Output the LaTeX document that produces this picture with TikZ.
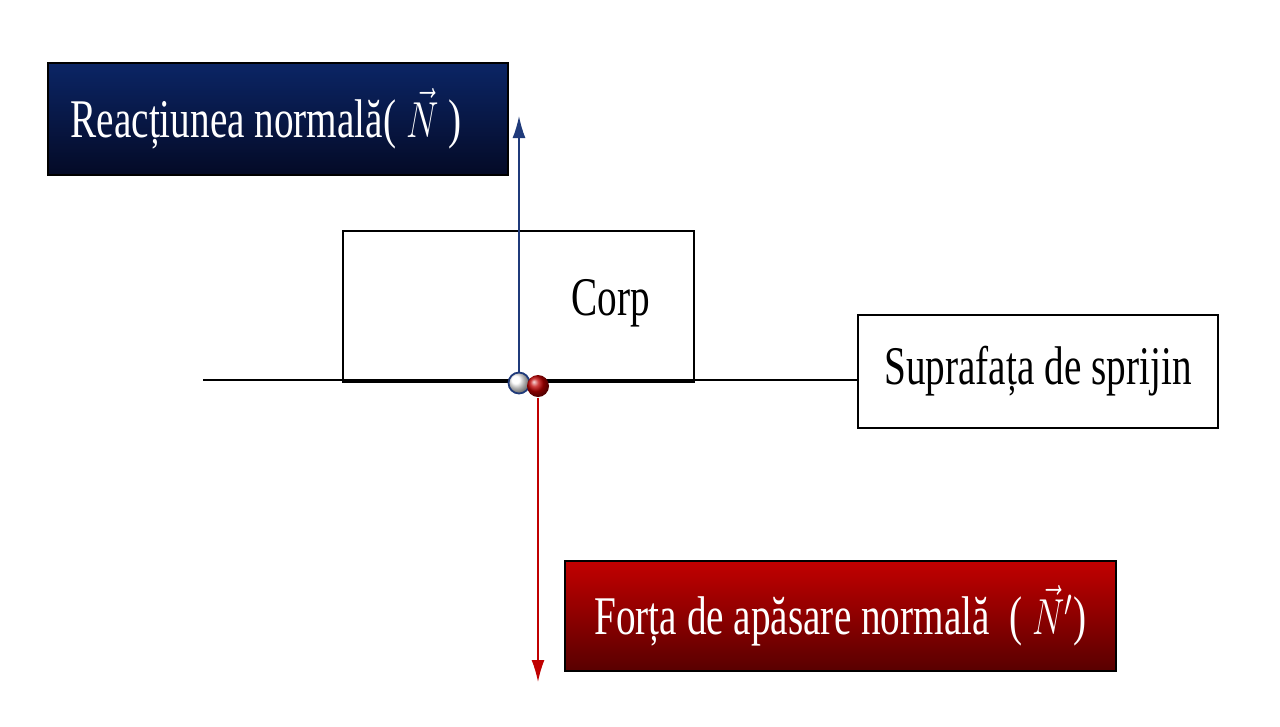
\documentclass[tikz,border=0pt]{standalone}
\usepackage{fontspec}
\setmainfont{Liberation Serif}
\usetikzlibrary{arrows.meta}
\definecolor{navytop}{HTML}{0B2565}
\definecolor{navybot}{HTML}{040A26}
\definecolor{redtop}{HTML}{C20000}
\definecolor{redbot}{HTML}{580000}
\definecolor{vecblue}{HTML}{1F3A7A}
\definecolor{vecred}{HTML}{C00000}
\newcommand{\narrow}[1]{\scalebox{0.72}[1]{#1}}
\begin{document}
\begin{tikzpicture}[
  x=0.1mm, y=-0.1mm,
  labelbox/.style={rectangle, draw=black, line width=0.4pt, inner sep=0pt, font=\fontsize{15.5}{18}\selectfont},
  bluebox/.style={labelbox, top color=navytop, bottom color=navybot, text=white, minimum width=46mm, minimum height=11.2mm},
  redbox/.style={labelbox, top color=redtop, bottom color=redbot, text=white, minimum width=55.1mm, minimum height=11mm},
  plainbox/.style={labelbox, fill=white, minimum width=36mm, minimum height=11.3mm},
  bodybox/.style={rectangle, draw=black, line width=0.4pt, minimum width=35.1mm, minimum height=14.9mm, inner sep=0pt},
  forcearrow/.style={line width=0.45pt, -{Latex[length=2.2mm, width=1.3mm]}}
]
\useasboundingbox (0,0) rectangle (1280,726);

% Boxes
\node[bodybox] (body) at (518.5, 305.5) {};
\node[font=\fontsize{15.5}{18}\selectfont] (corp) at (611, 303) {\narrow{Corp}};
\node[plainbox] (surf) at (1038, 371.5) {\narrow{Suprafața de sprijin}};
\node[bluebox] (react) at (278, 119) {\hspace*{-2.4mm}\raisebox{-0.5mm}{\narrow{Reacțiunea normală( $\vec{N}$ )}}};
\node[redbox] (press) at (840.5, 616) {\raisebox{-0.4mm}{\narrow{Forța de apăsare normală\ \ ( $\vec{N}'$)}}};

% Surface line
\coordinate (groundL) at (203, 380);
\draw[line width=0.6pt] (groundL) -- (surf.west |- groundL);
\draw[line width=1.1pt] (body.south west) -- (body.south east);

% Contact points
\coordinate (reacttip) at (519, 116);
\coordinate (presstip) at (538, 682);
\node[circle, draw=vecblue, line width=0.5pt, ball color=white, inner sep=0pt, minimum size=2.1mm] (cblue) at (519, 383) {};
\node[circle, ball color=vecred, inner sep=0pt, minimum size=2.2mm] (cred) at (538, 386) {};

% Force arrows
\draw[forcearrow, vecblue] (cblue.north) -- (reacttip);
\draw[forcearrow, vecred] (cred.south) -- (presstip);

\end{tikzpicture}
\end{document}
